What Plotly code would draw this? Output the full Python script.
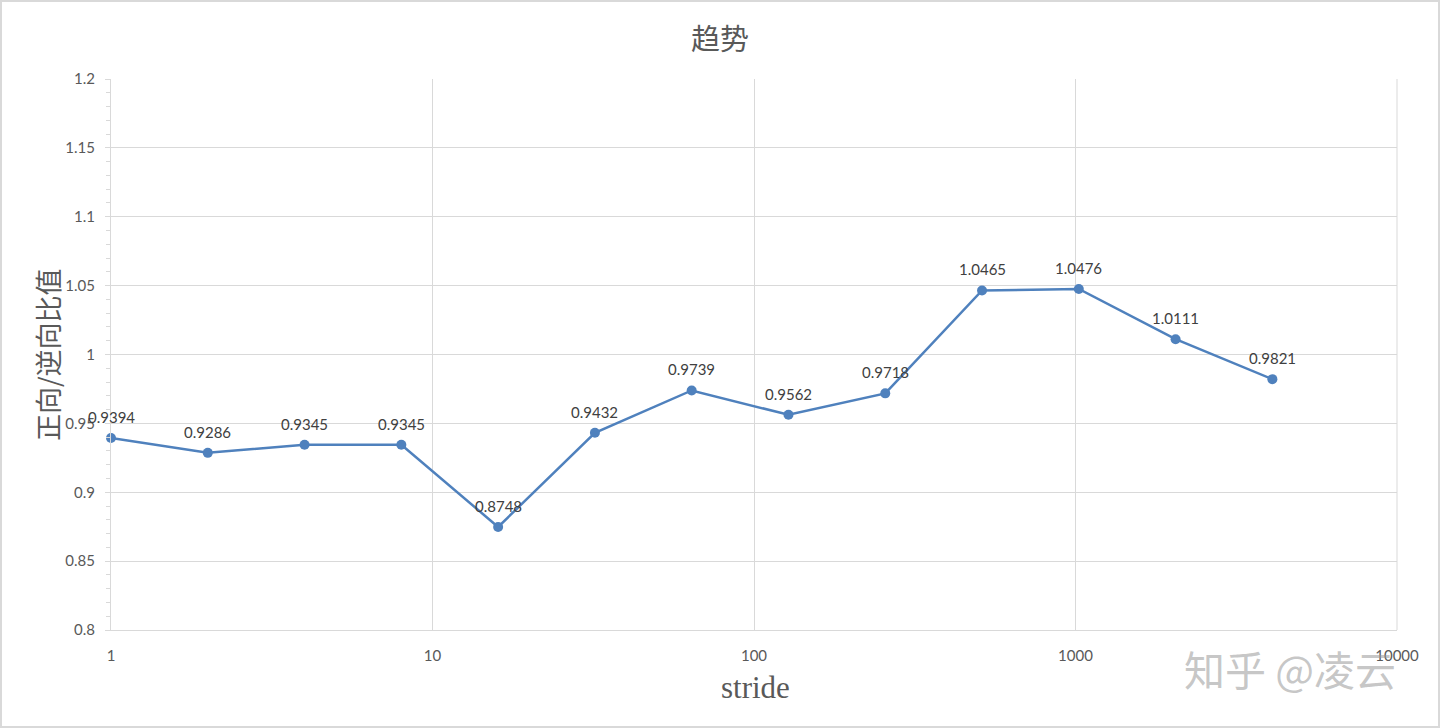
import plotly.graph_objects as go

strides = [1, 2, 4, 8, 16, 32, 64, 128, 256, 512, 1024, 2048, 4096]
ratios = [0.9394, 0.9286, 0.9345, 0.9345, 0.8748, 0.9432, 0.9739, 0.9562, 0.9718, 1.0465, 1.0476, 1.0111, 0.9821]
labels = ["0.9394", "0.9286", "0.9345", "0.9345", "0.8748", "0.9432", "0.9739", "0.9562", "0.9718", "1.0465", "1.0476", "1.0111", "0.9821"]
y_ticks = [0.8, 0.85, 0.9, 0.95, 1.0, 1.05, 1.1, 1.15, 1.2]
y_ticktext = ["0.8", "0.85", "0.9", "0.95", "1", "1.05", "1.1", "1.15", "1.2"]
x_ticks = [1, 10, 100, 1000, 10000]
x_ticktext = ["1", "10", "100", "1000", "10000"]

W, H = 1440, 728
ML, MR, MT, MB = 111, 43, 79, 98
PW, PH = W - ML - MR, H - MT - MB

GRID = "#d9d9d9"
TXT = "#595959"
BLUE = "#4f81bd"
FONT = "Lato, Open Sans, sans-serif"

fig = go.Figure()
fig.add_trace(go.Scatter(
    x=strides, y=ratios, mode="lines+markers",
    line=dict(color=BLUE, width=2.5),
    marker=dict(color=BLUE, size=10),
    cliponaxis=False, showlegend=False,
))

label_annotations = [
    dict(x=xv, y=yv, xref="x", yref="y", text=t, showarrow=False,
         xanchor="center", yanchor="middle", yshift=21,
         font=dict(family=FONT, size=15, color="#404040"))
    for xv, yv, t in zip([__import__("math").log10(s) for s in strides], ratios, labels)
]

fig.update_layout(
    width=W, height=H,
    margin=dict(l=ML, r=MR, t=MT, b=MB, autoexpand=False),
    paper_bgcolor="white", plot_bgcolor="white",
    showlegend=False,
    xaxis=dict(
        type="log", range=[0, 4], tickvals=x_ticks, ticktext=x_ticktext,
        showgrid=True, gridcolor=GRID, gridwidth=1,
        showline=True, linecolor=GRID, linewidth=1, mirror=False,
        ticks="", ticklabelstandoff=12, zeroline=False,
        tickfont=dict(family=FONT, size=15, color=TXT),
    ),
    yaxis=dict(
        range=[0.8, 1.2], tickvals=y_ticks, ticktext=y_ticktext,
        showgrid=True, gridcolor=GRID, gridwidth=1,
        showline=True, linecolor=GRID, linewidth=1,
        ticks="outside", ticklen=5, tickcolor=GRID, ticklabelstandoff=7,
        minor=dict(dtick=0.01, ticks="outside", ticklen=4, tickcolor=GRID, showgrid=False),
        zeroline=False,
        tickfont=dict(family=FONT, size=15, color=TXT),
    ),
    shapes=[
        dict(type="line", xref="paper", yref="paper", x0=1, x1=1, y0=0, y1=1,
             line=dict(color=GRID, width=1)),
        dict(type="rect", xref="paper", yref="paper",
             x0=-(ML - 1) / PW, x1=1 + (MR - 1) / PW,
             y0=-(MB - 1) / PH, y1=1 + (MT - 1) / PH,
             line=dict(color="#d9d9d9", width=2), layer="below"),
    ],
    annotations=label_annotations + [
        dict(text="趋势", xref="paper", yref="paper",
             x=(720 - ML) / PW, y=1 + (MT - 37) / PH, xanchor="center", yanchor="middle",
             showarrow=False, font=dict(family="Noto Sans CJK SC", size=29, color=TXT)),
        dict(text="正向/逆向比值", xref="paper", yref="paper",
             x=(47 - ML) / PW, y=(630 - 355) / PH, xanchor="center", yanchor="middle",
             textangle=-90, showarrow=False,
             font=dict(family="Noto Sans CJK SC", size=27, color=TXT)),
        dict(text="stride", xref="paper", yref="paper",
             x=(755 - ML) / PW, y=-(687 - 630) / PH, xanchor="center", yanchor="middle",
             showarrow=False, font=dict(family="Liberation Serif, DejaVu Serif, serif", size=31, color=TXT)),
        dict(text="知乎 @凌云", xref="paper", yref="paper",
             x=(1290 - ML) / PW, y=-(668 - 630) / PH, xanchor="center", yanchor="middle",
             showarrow=False, font=dict(family="Noto Sans CJK SC", size=41, color="rgba(150,150,150,0.55)")),
    ],
)

fig.write_html("out.html")
